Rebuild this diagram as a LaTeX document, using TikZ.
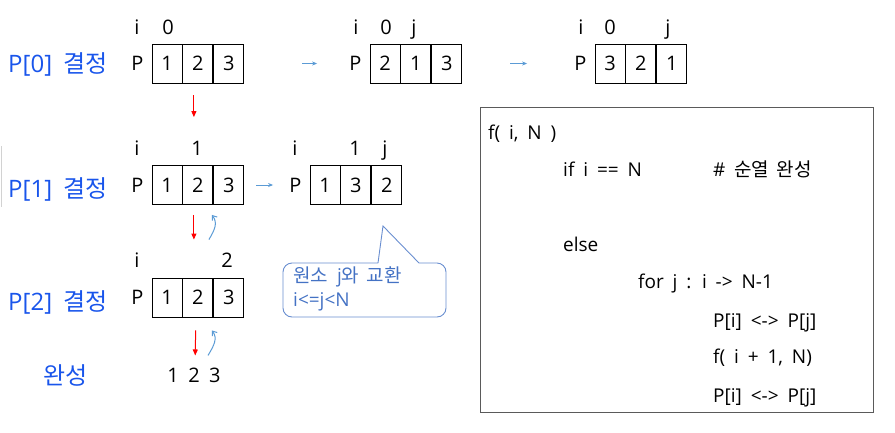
\documentclass[tikz,border=0pt]{standalone}
\usepackage{fontspec}
\setmainfont{Open Sans}[WordSpace=1.8]
\newfontfamily\kr{Noto Sans CJK KR}[WordSpace=1.8]
\usetikzlibrary{arrows.meta,positioning}
\definecolor{labelblue}{RGB}{25,85,235}
\definecolor{noteblue}{RGB}{68,114,196}
\definecolor{arrowblue}{RGB}{91,155,213}
\definecolor{codegray}{RGB}{90,90,90}

\begin{document}
\begin{tikzpicture}[x=1pt, y=-1pt,
  cell/.style={draw, line width=0.9pt, minimum width=30pt, minimum height=39pt,
               inner sep=0pt, font=\fontsize{20}{24}\selectfont},
  plabel/.style={inner sep=0pt, font=\fontsize{20}{24}\selectfont},
  idx/.style={inner sep=0pt, anchor=base, font=\fontsize{20}{24}\selectfont},
  rowlabel/.style={inner sep=0pt, anchor=base west, text=labelblue,
                   font=\fontsize{24}{28}\selectfont},
  codeline/.style={inner sep=0pt, anchor=base west, font=\fontsize{19}{22}\selectfont},
  swaparrow/.style={arrowblue, line width=1pt, -{Stealth[length=5pt, width=4pt]}},
  downarrow/.style={red, line width=1pt, -{Triangle[length=6pt, width=5pt]}},
  backarrow/.style={arrowblue, line width=1pt, -{Straight Barb[length=4pt, width=6pt]}}]
  \useasboundingbox (0,0) rectangle (895,432);
  \draw[gray!35, line width=1pt] (1,146) -- (1,207);
  % Row labels
  \node[rowlabel] (lbl0) at (8,72)  {P[0] {\kr 결정}};
  \node[rowlabel] (lbl1) at (8,197) {P[1] {\kr 결정}};
  \node[rowlabel] (lbl2) at (8,310) {P[2] {\kr 결정}};
  \node[inner sep=0pt, text=labelblue, font=\kr\fontsize{24}{28}\selectfont] (lbl3) at (66,375) {완성};
  % Arrays P
  \foreach \b/\x/\y/\u/\v/\w in {a/152/63.5/1/2/3, b/370/63.5/2/1/3, c/595/63.5/3/2/1,
                                 d/152/185/1/2/3, e/310/185/1/3/2, f/152/297.5/1/2/3}{
    \node[cell] (\b1) at (\x+15,\y) {\u};
    \node[cell, right=0pt of \b1] (\b2) {\v};
    \node[cell, right=0pt of \b2] (\b3) {\w};
    \node[plabel, left=8pt of \b1] (\b P) {P};
  }
  % Index marks
  \foreach \t/\x/\y [count=\n] in {i/137/34, 0/168/34, i/356/34, 0/386/34, j/414/34,
                                   i/581/34, 0/610/34, j/668/34,
                                   i/137/155, 1/197/155, i/295/155, 1/355/155, j/385/155,
                                   i/137/267, 2/227/267}{
    \node[idx] (idx\n) at (\x,\y) {\t};
  }
  \node[plabel] (done) at (194,375) {1 2 3};
  % Swaps inside a level
  \draw[swaparrow, shorten <=58pt, shorten >=32pt] (a3.east) -- (bP.west);
  \draw[swaparrow, shorten <=48pt, shorten >=47pt] (b3.east) -- (cP.west);
  \draw[swaparrow, shorten <=12pt, shorten >=16pt] (d3.east) -- (eP.west);
  % Going down
  \draw[downarrow, shorten <=12pt, shorten >=48pt] ([xshift=-4pt]a2.south) -- ([xshift=-4pt]d2.north);
  \draw[downarrow, shorten <=10pt, shorten >=38pt] ([xshift=-4pt]d2.south) -- ([xshift=-4pt]f2.north);
  \draw[downarrow, shorten <=13pt, shorten >=12pt] ([xshift=-2pt]f2.south) -- ([xshift=1pt]done.north);
  % Coming back
  \draw[backarrow] ([shift={(11,-38)}]f2.north) .. controls +(6,-10) and +(6,8) .. ([shift={(14,10)}]d2.south);
  \draw[backarrow] ([shift={(14,-12)}]done.north) .. controls +(6,-10) and +(6,8) .. ([shift={(14,13)}]f2.south);
  % Note
  \node[inner sep=0pt, anchor=north west, align=left, text=noteblue,
        font=\fontsize{19}{24}\selectfont] (note) at (293,267) {{\kr 원소} j{\kr 와 교환}\\i<=j<N};
  \draw[noteblue!80, line width=0.9pt] (378,263) -- (383,226) -- (419,263)
    [rounded corners=9pt] -- (446,263) -- (446,317) -- (283,317) -- (283,263) -- (378,263);
  % Pseudo code
  \node[draw=codegray, line width=0.9pt, minimum width=393pt, minimum height=305pt,
        anchor=north west] (code) at (480,107) {};
  \foreach \x/\y/\t [count=\n] in {488/139/{f( i, N )}, 563/176/{if i == N}, 713/176/{\# {\kr 순열 완성}},
                                   563/251/{else}, 638/288/{for j : i -> N-1},
                                   713/327/{P[i] <-> P[j]}, 713/363/{f( i + 1, N)},
                                   713/402/{P[i] <-> P[j]}}{
    \node[codeline] (line\n) at (\x,\y) {\t};
  }
\end{tikzpicture}
\end{document}
